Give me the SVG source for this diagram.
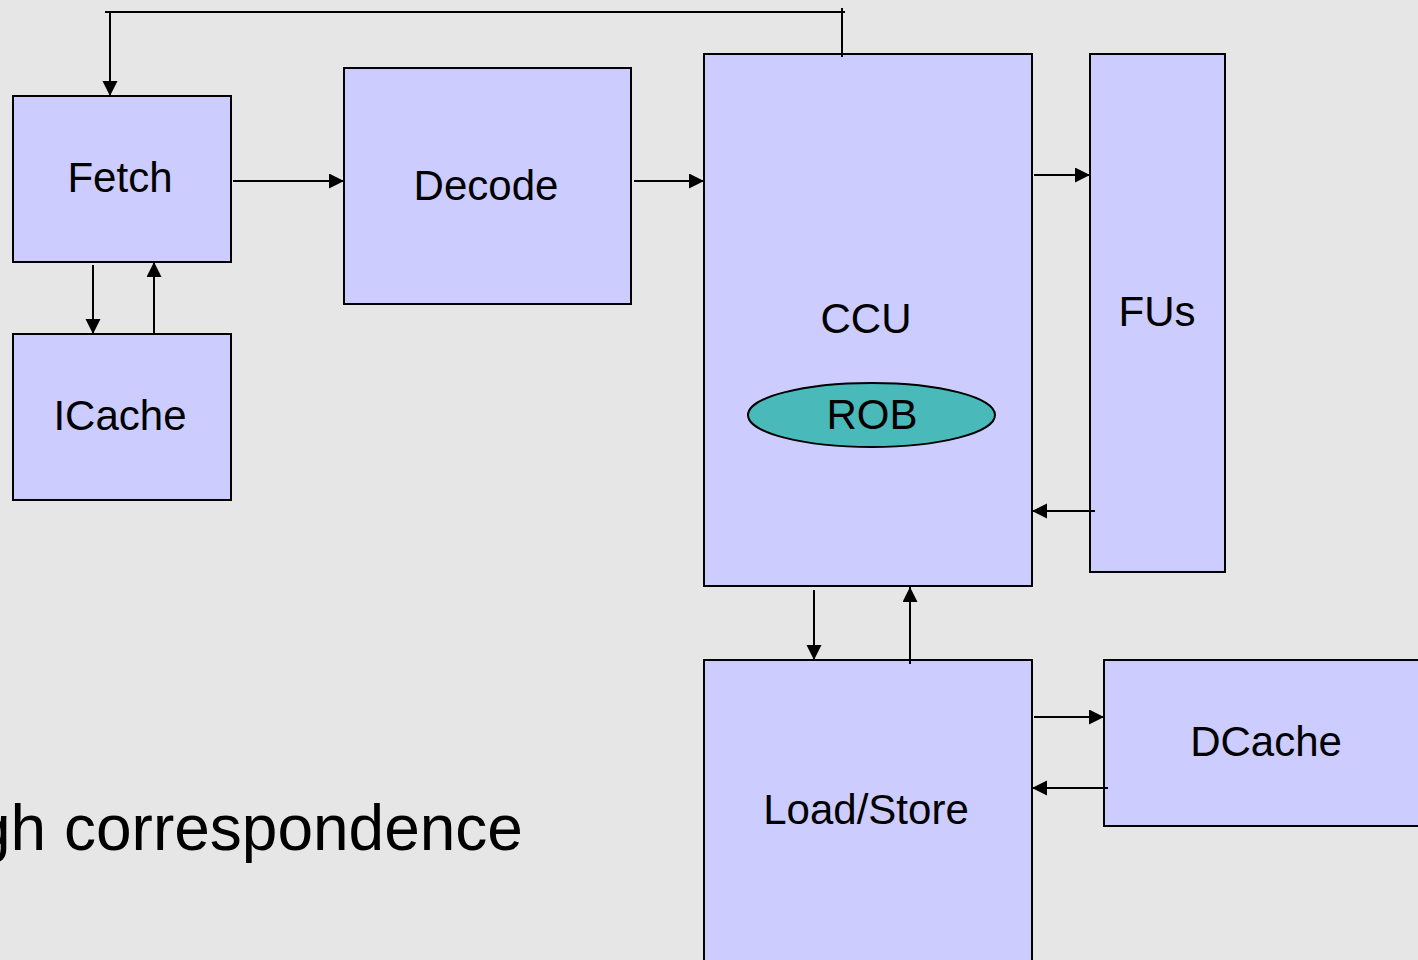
<svg xmlns="http://www.w3.org/2000/svg" width="1418" height="960" viewBox="0 0 1418 960">
  <style>
    .box { fill: #CCCCFF; stroke: #000; stroke-width: 2; }
    .lbl { font-family: "Liberation Sans", Arial, sans-serif; font-size: 42px; fill: #000; text-anchor: middle; }
    .conn line { stroke: #000; stroke-width: 2; fill: none; }
    .arr { marker-end: url(#ah); }
  </style>
  <defs>
    <marker id="ah" markerUnits="userSpaceOnUse" markerWidth="16" markerHeight="16" refX="15" refY="7.5" orient="auto">
      <path d="M0,0 L15,7.5 L0,15 z" fill="#000"/>
    </marker>
  </defs>
  <rect x="0" y="0" width="1418" height="960" fill="#E6E6E6"/>

  <text x="-25" y="850" font-family="Liberation Sans, Arial, sans-serif" font-size="64" fill="#000">gh correspondence</text>

  <g id="fetch">
    <rect class="box" x="13" y="96" width="218" height="166"/>
    <text class="lbl" x="120" y="192">Fetch</text>
  </g>
  <g id="icache">
    <rect class="box" x="13" y="334" width="218" height="166"/>
    <text class="lbl" x="120" y="430">ICache</text>
  </g>
  <g id="decode">
    <rect class="box" x="344" y="68" width="287" height="236"/>
    <text class="lbl" x="486" y="200">Decode</text>
  </g>
  <g id="ccu">
    <rect class="box" x="704" y="54" width="328" height="532"/>
    <text class="lbl" x="866" y="333">CCU</text>
  </g>
  <g id="rob">
    <ellipse cx="871.5" cy="415" rx="123.5" ry="32" fill="#4AB9B9" stroke="#000" stroke-width="2"/>
    <text class="lbl" x="872" y="429">ROB</text>
  </g>
  <g id="fus">
    <rect class="box" x="1090" y="54" width="135" height="518"/>
    <text class="lbl" x="1157" y="326">FUs</text>
  </g>
  <g id="loadstore">
    <rect class="box" x="704" y="660" width="328" height="320"/>
    <text class="lbl" x="866" y="824">Load/Store</text>
  </g>
  <g id="dcache">
    <rect class="box" x="1104" y="660" width="330" height="166"/>
    <text class="lbl" x="1266" y="756">DCache</text>
  </g>

  <g id="connectors" class="conn">
    <line x1="842" y1="57" x2="842" y2="8"/>
    <line x1="105" y1="12" x2="845" y2="12"/>
    <line class="arr" x1="110" y1="12" x2="110" y2="96"/>
    <line class="arr" x1="233" y1="181" x2="344" y2="181"/>
    <line class="arr" x1="93" y1="265" x2="93" y2="334"/>
    <line class="arr" x1="154" y1="334" x2="154" y2="262"/>
    <line class="arr" x1="634" y1="181" x2="704" y2="181"/>
    <line class="arr" x1="1034" y1="175" x2="1090" y2="175"/>
    <line class="arr" x1="1095" y1="511" x2="1032" y2="511"/>
    <line class="arr" x1="814" y1="590" x2="814" y2="660"/>
    <line class="arr" x1="910" y1="664" x2="910" y2="587"/>
    <line class="arr" x1="1034" y1="717" x2="1104" y2="717"/>
    <line class="arr" x1="1108" y1="788" x2="1032" y2="788"/>
  </g>
</svg>
